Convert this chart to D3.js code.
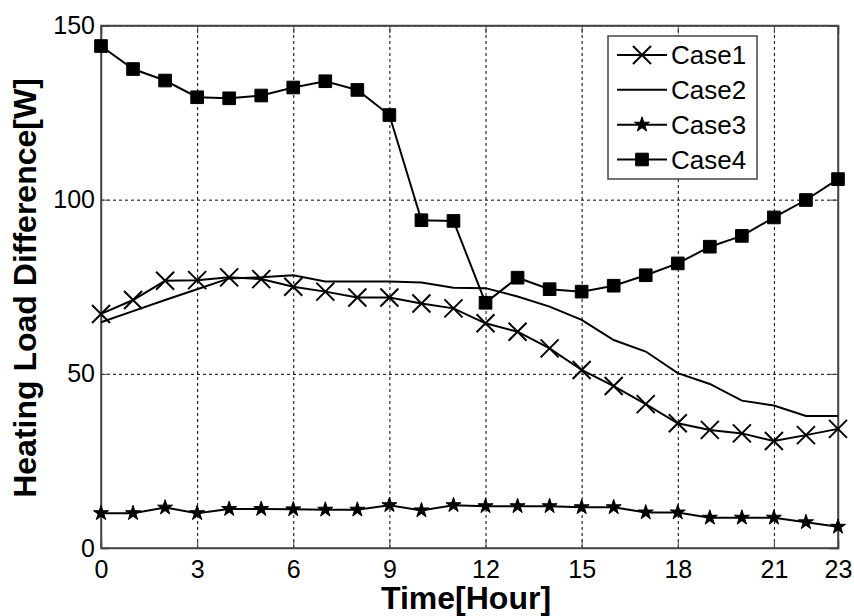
<!DOCTYPE html>
<html>
<head>
<meta charset="utf-8">
<script src="https://cdn.jsdelivr.net/npm/d3@7"></script>
<style>
  body { margin: 0; background: #fff; }
  text { font-family: "Liberation Sans", Arial, sans-serif; }
</style>
</head>
<body>
<div id="container"></div>
<script>
/* DATA */
const hours = d3.range(0, 24)
const case1 = [67.2, 71.2, 76.7, 76.9, 77.7, 77.2, 75.0, 73.6, 71.9, 71.9, 70.2, 68.8,
  64.5, 62.1, 57.3, 51.1, 46.5, 41.3, 35.8, 33.9, 32.9, 30.7, 32.4, 34.2]
const case2 = [64.8, 68.0, 71.2, 74.3, 77.4, 77.7, 78.3, 76.5, 76.5, 76.5, 76.2, 74.7,
  74.6, 72.2, 69.3, 65.5, 59.7, 56.4, 50.2, 47.1, 42.3, 40.9, 37.9, 37.9]
const case3 = [10.0, 10.0, 11.6, 10.0, 11.2, 11.2, 11.1, 11.0, 11.0, 12.3, 10.8, 12.3,
  12.0, 12.0, 12.0, 11.7, 11.7, 10.2, 10.2, 8.7, 8.7, 8.7, 7.4, 6.1]
const case4 = [144.1, 137.5, 134.2, 129.4, 129.1, 129.9, 132.2, 134.0, 131.5, 124.3, 94.1, 93.9,
  70.4, 77.6, 74.3, 73.6, 75.3, 78.3, 81.7, 86.5, 89.6, 94.9, 99.9, 105.9]
const seriesNames = ["Case1", "Case2", "Case3", "Case4"]
const markerTypes = ["x", "none", "star", "square"]
const xTicks = [0, 3, 6, 9, 12, 15, 18, 21, 23]
const yTicks = [0, 50, 100, 150]

/* CONSTANTS */
const width = 854, height = 616,
  margin = { top: 25.5, bottom: 68, left: 101, right: 16 }

const svg = d3.select("#container")
  .append("svg")
  .attr("width", width)
  .attr("height", height)

/* SCALES */
const xScale = d3.scaleLinear()
  .domain([0, 23])
  .range([margin.left, width - margin.right])

const yScale = d3.scaleLinear()
  .domain([0, 150])
  .range([height - margin.bottom, margin.top])

const plotW = width - margin.left - margin.right
const plotH = height - margin.top - margin.bottom

// grid
svg.append("g")
  .attr("transform", `translate(0, ${height - margin.bottom})`)
  .call(d3.axisBottom(xScale).tickValues(xTicks).tickSize(-plotH).tickFormat(""))
  .call(g => g.select(".domain").remove())
  .selectAll("line")
  .attr("stroke", "#000")
  .attr("stroke-dasharray", "3,3")

svg.append("g")
  .attr("transform", `translate(${margin.left}, 0)`)
  .call(d3.axisLeft(yScale).tickValues(yTicks).tickSize(-plotW).tickFormat(""))
  .call(g => g.select(".domain").remove())
  .selectAll("line")
  .attr("stroke", "#000")
  .attr("stroke-dasharray", "3,3")

// frame
svg.append("rect")
  .attr("x", margin.left)
  .attr("y", margin.top)
  .attr("width", plotW)
  .attr("height", plotH)
  .attr("fill", "none")
  .attr("stroke", "#444")
  .attr("stroke-width", 1.5)

// axes (ticks inward)
svg.append("g")
  .attr("transform", `translate(0, ${height - margin.bottom})`)
  .call(d3.axisBottom(xScale).tickValues(xTicks).tickSize(-8).tickPadding(12))
svg.append("g")
  .attr("transform", `translate(0, ${margin.top})`)
  .call(d3.axisTop(xScale).tickValues(xTicks).tickSize(-8).tickFormat(""))
svg.append("g")
  .attr("transform", `translate(${margin.left}, 0)`)
  .call(d3.axisLeft(yScale).tickValues(yTicks).tickSize(-8).tickPadding(6))
svg.append("g")
  .attr("transform", `translate(${width - margin.right}, 0)`)
  .call(d3.axisRight(yScale).tickValues(yTicks).tickSize(-8).tickFormat(""))

svg.selectAll(".domain").attr("stroke", "#444").attr("stroke-width", 1.5)
svg.selectAll(".tick line").filter(function () { return !this.getAttribute("stroke-dasharray") })
  .attr("stroke", "#444")
svg.selectAll(".tick text")
  .attr("font-size", 25)
  .attr("font-family", "Liberation Sans, Arial, sans-serif")
  .attr("fill", "#000")

// axis titles
svg.append("text")
  .attr("x", 466)
  .attr("y", 609)
  .attr("text-anchor", "middle")
  .attr("font-size", 32)
  .attr("font-weight", "bold")
  .text("Time[Hour]")

svg.append("text")
  .attr("transform", "translate(36, 288) rotate(-90)")
  .attr("text-anchor", "middle")
  .attr("font-size", 32)
  .attr("font-weight", "bold")
  .text("Heating Load Difference[W]")

/* LINES */
const allSeries = [case1, case2, case3, case4]
const line = d3.line()
  .x((d, i) => xScale(hours[i]))
  .y(d => yScale(d))

const markerPath = type => {
  if (type === "x") return "M-9,-9L9,9M-9,9L9,-9"
  if (type === "star") return d3.symbol(d3.symbolStar, 70)()
  if (type === "square") return d3.symbol(d3.symbolSquare, 160)()
  return null
}

allSeries.forEach((vals, s) => {
  svg.append("path")
    .datum(vals)
    .attr("fill", "none")
    .attr("stroke", "#000")
    .attr("stroke-width", 2)
    .attr("d", line)

  const type = markerTypes[s]
  if (type === "none") return
  svg.selectAll(".m" + s)
    .data(vals)
    .join("path")
    .attr("class", "m" + s)
    .attr("transform", (d, i) => `translate(${xScale(hours[i])}, ${yScale(d)})`)
    .attr("d", markerPath(type))
    .attr("fill", type === "x" ? "none" : "#000")
    .attr("stroke", "#000")
    .attr("stroke-width", type === "x" ? 2 : 1)
})

/* LEGEND */
const legend = svg.append("g")
legend.append("rect")
  .attr("x", 608)
  .attr("y", 36)
  .attr("width", 149)
  .attr("height", 143)
  .attr("fill", "#fff")
  .attr("stroke", "#444")
  .attr("stroke-width", 1.5)

const legendY = d3.scalePoint()
  .domain(seriesNames)
  .range([55, 159.5])

seriesNames.forEach((name, s) => {
  const y = legendY(name)
  legend.append("line")
    .attr("x1", 617).attr("x2", 667)
    .attr("y1", y).attr("y2", y)
    .attr("stroke", "#000")
    .attr("stroke-width", 2)
  const type = markerTypes[s]
  if (type !== "none") {
    legend.append("path")
      .attr("transform", `translate(642, ${y})`)
      .attr("d", markerPath(type))
      .attr("fill", type === "x" ? "none" : "#000")
      .attr("stroke", "#000")
      .attr("stroke-width", type === "x" ? 2 : 1)
  }
  legend.append("text")
    .attr("x", 671)
    .attr("y", y)
    .attr("dy", "0.36em")
    .attr("font-size", 26)
    .text(name)
})
</script>
</body>
</html>
